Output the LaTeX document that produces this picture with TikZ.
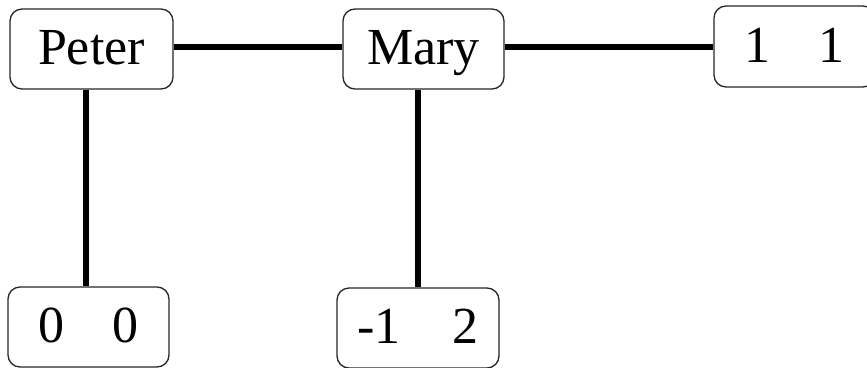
\documentclass[tikz,border=0pt]{standalone}
\usepackage{fontspec}
\setmainfont{Liberation Serif}
\begin{document}
\begin{tikzpicture}[x=1pt,y=-1pt,
  box/.style={draw=black!85, line width=1.3pt, rounded corners=12pt, minimum height=80pt, inner sep=0pt, text height=34pt, text depth=3pt, font=\fontsize{52}{54}\selectfont},
  link/.style={line width=6.5pt}]
\clip (0,0) rectangle (867,367);
\useasboundingbox (0,0) rectangle (867,367);
\node[box, minimum width=163pt] (peter) at (91.5,49) {Peter};
\node[box, minimum width=161pt] (mary) at (423.5,49) {Mary};
\node[box, minimum width=161pt, minimum height=81pt] (one) at (794.5,46.5) {1\hspace{49pt}1};
\node[box, minimum width=161pt] (zero) at (88.5,327) {0\hspace{49pt}0};
\node[box, minimum width=162pt] (minus) at (418,328) {-1\hspace{52pt}2};
\draw[link] (peter.east |- 0,47) -- (mary.west |- 0,47);
\draw[link] (mary.east |- 0,47) -- (one.west |- 0,47);
\draw[link] (86,0 |- peter.south) -- (86,0 |- zero.north);
\draw[link] (418,0 |- mary.south) -- (minus.north);
\end{tikzpicture}
\end{document}
